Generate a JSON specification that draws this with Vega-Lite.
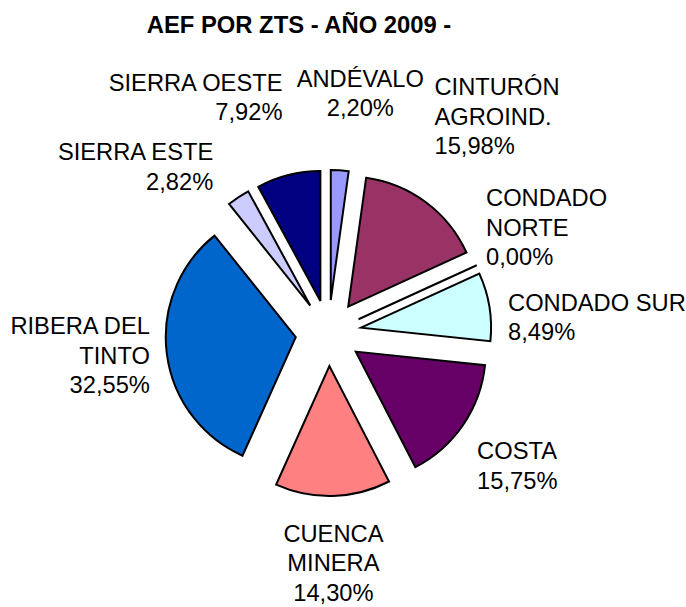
{
  "$schema": "https://vega.github.io/schema/vega-lite/v6.json",
  "autosize": "none",
  "width": 657,
  "height": 546,
  "padding": {"left": 0, "top": 60, "right": 29, "bottom": 1},
  "background": "white",
  "config": {"view": {"stroke": null}},
  "title": {
    "text": "AEF POR ZTS - AÑO 2009 -",
    "anchor": "middle",
    "frame": "group",
    "font": "Liberation Sans",
    "fontSize": 23.8,
    "fontWeight": "bold",
    "color": "#000000",
    "dx": -29.5,
    "dy": 24,
    "offset": 27,
    "baseline": "alphabetic"
  },
  "data": {
    "values": [
      {"zona": "ANDÉVALO", "rotulo": "ANDÉVALO", "pct": 2.20},
      {"zona": "CINTURÓN AGROIND.", "rotulo": "CINTURÓN\nAGROIND.", "pct": 15.98},
      {"zona": "CONDADO NORTE", "rotulo": "CONDADO\nNORTE", "pct": 0.00},
      {"zona": "CONDADO SUR", "rotulo": "CONDADO SUR", "pct": 8.49},
      {"zona": "COSTA", "rotulo": "COSTA", "pct": 15.75},
      {"zona": "CUENCA MINERA", "rotulo": "CUENCA\nMINERA", "pct": 14.30},
      {"zona": "RIBERA DEL TINTO", "rotulo": "RIBERA DEL\nTINTO", "pct": 32.55},
      {"zona": "SIERRA ESTE", "rotulo": "SIERRA ESTE", "pct": 2.82},
      {"zona": "SIERRA OESTE", "rotulo": "SIERRA OESTE", "pct": 7.92}
    ]
  },
  "transform": [
    {"joinaggregate": [{"op": "sum", "field": "pct", "as": "total"}]},
    {"window": [{"op": "sum", "field": "pct", "as": "cum"}, {"op": "row_number", "as": "i"}], "frame": [null, 0]},
    {"calculate": "360 * (datum.cum - datum.pct) / datum.total", "as": "a0"},
    {"calculate": "360 * datum.cum / datum.total", "as": "a1"},
    {"calculate": "(datum.a0 + datum.a1) / 2", "as": "mid"},
    {"window": [{"op": "lag", "field": "mid", "as": "prevMid"}], "sort": [{"field": "i", "order": "ascending"}]},
    {"joinaggregate": [{"op": "max", "field": "mid", "as": "lastMid"}]},
    {"calculate": "datum.i === 1 ? datum.mid + 360 - datum.lastMid : datum.mid - datum.prevMid", "as": "gap"},
    {"joinaggregate": [{"op": "argmax", "field": "gap", "as": "inicio"}]},
    {"calculate": "(datum.mid - datum.inicio.mid + 360) % 360", "as": "rot"},
    {"window": [{"op": "row_number", "as": "j"}], "sort": [{"field": "rot", "order": "ascending"}]},
    {"calculate": "datum.rot - 25 * datum.j", "as": "clave"},
    {"window": [{"op": "max", "field": "clave", "as": "fmax"}], "sort": [{"field": "rot", "order": "ascending"}], "frame": [null, 0]},
    {"window": [{"op": "min", "field": "clave", "as": "bmin"}], "sort": [{"field": "rot", "order": "ascending"}], "frame": [0, null]},
    {"calculate": "(datum.inicio.mid + 25 * datum.j + (datum.fmax + datum.bmin) / 2) * PI / 180", "as": "la"},
    {"calculate": "33 * sin(datum.mid * PI / 180)", "as": "dx"},
    {"calculate": "-33 * cos(datum.mid * PI / 180)", "as": "dy"},
    {"calculate": "datum.rotulo + '\\n' + replace(format(datum.pct, '.2f'), '.', ',') + '%'", "as": "etiqueta"},
    {"calculate": "split(datum.etiqueta, '\\n').length", "as": "nl"},
    {"calculate": "sin(datum.la) > 0.2 ? 'left' : (sin(datum.la) < -0.2 ? 'right' : 'center')", "as": "al"},
    {"calculate": "cos(datum.la) > 0.8 ? 'bottom' : (cos(datum.la) < -0.4 ? 'top' : 'middle')", "as": "bl"},
    {"calculate": "180 * sin(datum.la)", "as": "lx"},
    {"calculate": "-(cos(datum.la) > 0 ? 215 : 190) * cos(datum.la) - (datum.bl === 'bottom' ? 1 : (datum.bl === 'middle' ? 0.5 : 0)) * (datum.nl - 1) * 29.5", "as": "ly"}
  ],
  "layer": [
    {
      "mark": {"type": "arc", "radius": 130, "stroke": "#000000", "strokeWidth": 2, "strokeJoin": "miter"},
      "encoding": {
        "theta": {"field": "a0", "type": "quantitative", "scale": {"domain": [0, 360], "range": [0, 6.283185307179586]}},
        "theta2": {"field": "a1"},
        "color": {
          "field": "zona",
          "type": "nominal",
          "scale": {
            "domain": ["ANDÉVALO", "CINTURÓN AGROIND.", "CONDADO NORTE", "CONDADO SUR", "COSTA", "CUENCA MINERA", "RIBERA DEL TINTO", "SIERRA ESTE", "SIERRA OESTE"],
            "range": ["#9999FF", "#993366", "#FFFFCC", "#CCFFFF", "#660066", "#FF8080", "#0066CC", "#CCCCFF", "#000080"]
          },
          "legend": null
        },
        "xOffset": {"field": "dx", "type": "quantitative", "scale": null},
        "yOffset": {"field": "dy", "type": "quantitative", "scale": null}
      }
    },
    {
      "mark": {
        "type": "text",
        "lineBreak": "\n",
        "font": "Liberation Sans",
        "fontSize": 23.7,
        "lineHeight": 29.5,
        "color": "#000000",
        "align": {"expr": "datum.al"},
        "baseline": {"expr": "datum.bl"}
      },
      "encoding": {
        "text": {"field": "etiqueta", "type": "nominal"},
        "xOffset": {"field": "lx", "type": "quantitative", "scale": null},
        "yOffset": {"field": "ly", "type": "quantitative", "scale": null}
      }
    }
  ]
}
